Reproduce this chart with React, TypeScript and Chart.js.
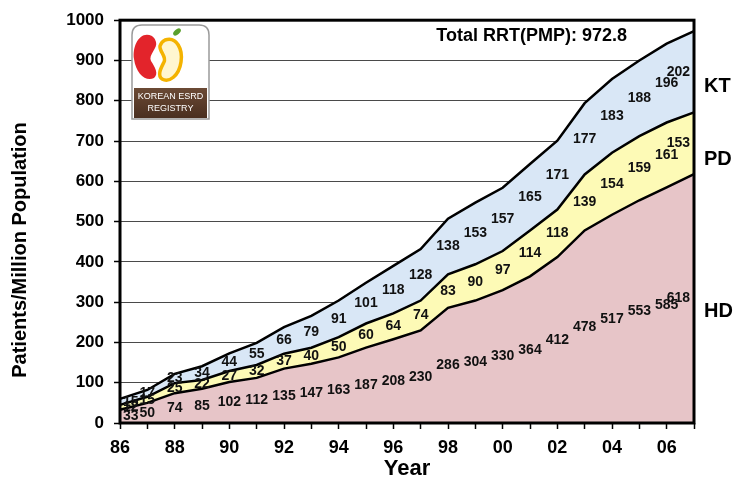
import React, { useEffect, useRef } from "react";
import { Chart, registerables } from "chart.js";

Chart.register(...registerables);

const years = ["86","87","88","89","90","91","92","93","94","95","96","97","98","99","00","01","02","03","04","05","06","07"];
const hdValues = [33, 50, 74, 85, 102, 112, 135, 147, 163, 187, 208, 230, 286, 304, 330, 364, 412, 478, 517, 553, 585, 618];
const pdValues = [12, 15, 25, 22, 27, 32, 37, 40, 50, 60, 64, 74, 83, 90, 97, 114, 118, 139, 154, 159, 161, 153];
const ktValues = [15, 17, 23, 34, 44, 55, 66, 79, 91, 101, 118, 128, 138, 153, 157, 165, 171, 177, 183, 188, 196, 202];
const seriesNames = ["HD", "PD", "KT"];
const totalLabel = "Total RRT(PMP): 972.8";
const yTitle = "Patients/Million Population";
const xTitle = "Year";

const FONT = "'Liberation Sans', Arial, sans-serif";

function drawLogo(ctx: CanvasRenderingContext2D) {
  ctx.save();
  const x0 = 132, y0 = 25, x1 = 209, y1 = 119, r = 10;
  ctx.beginPath();
  ctx.moveTo(x0 + r, y0);
  ctx.lineTo(x1 - r, y0);
  ctx.quadraticCurveTo(x1, y0, x1, y0 + r);
  ctx.lineTo(x1, y1);
  ctx.lineTo(x0, y1);
  ctx.lineTo(x0, y0 + r);
  ctx.quadraticCurveTo(x0, y0, x0 + r, y0);
  ctx.closePath();
  ctx.fillStyle = "#ffffff";
  ctx.fill();
  ctx.lineWidth = 1.5;
  ctx.strokeStyle = "#9a9a9a";
  ctx.stroke();

  const g = ctx.createLinearGradient(0, 88, 0, 118);
  g.addColorStop(0, "#6b4a35");
  g.addColorStop(1, "#4a2f20");
  ctx.fillStyle = g;
  ctx.fillRect(134, 88, 73, 30);
  ctx.fillStyle = "#ffffff";
  ctx.font = `9px ${FONT}`;
  ctx.textAlign = "center";
  ctx.textBaseline = "middle";
  ctx.fillText("KOREAN ESRD", 170.5, 97);
  ctx.fillText("REGISTRY", 170.5, 109);

  ctx.beginPath();
  ctx.moveTo(152, 36);
  ctx.bezierCurveTo(140, 30, 132, 46, 134, 59);
  ctx.bezierCurveTo(136, 74, 146, 82, 154, 78);
  ctx.bezierCurveTo(159, 74, 155, 67, 151, 61);
  ctx.bezierCurveTo(148, 55, 158, 48, 156, 42);
  ctx.bezierCurveTo(155, 38, 153, 37, 152, 36);
  ctx.closePath();
  ctx.fillStyle = "#e3242b";
  ctx.fill();

  ctx.beginPath();
  ctx.moveTo(165, 40);
  ctx.bezierCurveTo(177, 36, 183, 50, 181, 62);
  ctx.bezierCurveTo(179, 76, 169, 83, 162, 79);
  ctx.bezierCurveTo(157, 75, 161, 68, 164, 62);
  ctx.bezierCurveTo(167, 57, 159, 51, 160, 46);
  ctx.bezierCurveTo(161, 43, 163, 41, 165, 40);
  ctx.closePath();
  ctx.fillStyle = "#fff6d0";
  ctx.fill();
  ctx.lineWidth = 3.5;
  ctx.strokeStyle = "#f4b300";
  ctx.stroke();

  ctx.beginPath();
  ctx.ellipse(177, 32, 4.5, 2.5, -0.7, 0, Math.PI * 2);
  ctx.fillStyle = "#5aa02c";
  ctx.fill();
  ctx.restore();
}

const decorPlugin = {
  id: "decor",
  afterDatasetsDraw(chart: any) {
    const { ctx, chartArea } = chart;
    const xs = chart.scales.x;
    const ys = chart.scales.y;
    ctx.save();
    ctx.font = `bold 14px ${FONT}`;
    ctx.fillStyle = "#111";
    ctx.textAlign = "center";
    ctx.textBaseline = "middle";
    const all = [hdValues, pdValues, ktValues];
    for (let j = 0; j < years.length; j++) {
      let base = 0;
      for (let s = 0; s < all.length; s++) {
        const v = all[s][j];
        const label = String(v);
        const w = ctx.measureText(label).width;
        let px = xs.getPixelForValue(j);
        px = Math.max(chartArea.left + w / 2 + 3, Math.min(chartArea.right - w / 2 - 4, px));
        const py = ys.getPixelForValue(base + v / 2);
        ctx.fillText(label, px, py);
        base += v;
      }
    }
    ctx.lineWidth = 3;
    ctx.strokeStyle = "#000";
    ctx.strokeRect(chartArea.left, chartArea.top, chartArea.right - chartArea.left, chartArea.bottom - chartArea.top);
    ctx.restore();
  },
  afterDraw(chart: any) {
    const { ctx, chartArea } = chart;
    ctx.save();
    drawLogo(ctx);
    ctx.fillStyle = "#000";
    ctx.font = `bold 18px ${FONT}`;
    ctx.textAlign = "right";
    ctx.textBaseline = "alphabetic";
    ctx.fillText(totalLabel, 627, 41);

    ctx.font = `bold 20px ${FONT}`;
    ctx.textAlign = "left";
    ctx.textBaseline = "middle";
    const namePos = [311, 159, 86];
    seriesNames.forEach((n, i) => ctx.fillText(n, 704, namePos[i]));

    ctx.font = `bold 22px ${FONT}`;
    ctx.textAlign = "center";
    ctx.fillText(xTitle, (chartArea.left + chartArea.right) / 2, 469);

    ctx.translate(26, 250);
    ctx.rotate(-Math.PI / 2);
    ctx.font = `bold 20px ${FONT}`;
    ctx.textBaseline = "alphabetic";
    ctx.fillText(yTitle, 0, 0);
    ctx.restore();
  },
};

export default function App() {
  const ref = useRef<HTMLCanvasElement | null>(null);
  useEffect(() => {
    if (!ref.current) return;
    const chart = new Chart(ref.current, {
      type: "line",
      data: {
        labels: years,
        datasets: [
          { label: "HD", data: hdValues, fill: "origin", backgroundColor: "#e7c5c8", borderColor: "#000" },
          { label: "PD", data: pdValues, fill: "-1", backgroundColor: "#fdfab6", borderColor: "#000" },
          { label: "KT", data: ktValues, fill: "-1", backgroundColor: "#d9e7f6", borderColor: "#000" },
        ],
      },
      options: {
        responsive: false,
        animation: false,
        layout: { padding: { top: 19, right: 39, left: 0, bottom: 0 } },
        plugins: { legend: { display: false }, tooltip: { enabled: false } },
        elements: {
          line: { tension: 0, borderWidth: 2.5, borderColor: "#000" },
          point: { radius: 0 },
        },
        scales: {
          x: {
            type: "category",
            offset: false,
            border: { display: false },
            grid: { drawOnChartArea: false, drawTicks: true, tickLength: 6, tickColor: "#000", tickWidth: 1.5 },
            ticks: {
              autoSkip: false,
              maxRotation: 0,
              minRotation: 0,
              padding: 8,
              color: "#000",
              font: { family: FONT, size: 18, weight: "bold" },
              callback: (_v: any, i: number) => (i % 2 === 0 ? years[i] : ""),
            },
            afterFit: (s: any) => { s.height = 60; },
          },
          y: {
            stacked: true,
            min: 0,
            max: 1000,
            border: { display: false },
            grid: { color: "#4a4a4a", lineWidth: 1, tickLength: 6, tickColor: "#000", tickWidth: 1.5 },
            ticks: {
              stepSize: 100,
              padding: 10,
              color: "#000",
              font: { family: FONT, size: 17, weight: "bold" },
              callback: (v: any) => String(v),
            },
            afterFit: (s: any) => { s.width = 120; },
          },
        },
      } as any,
      plugins: [decorPlugin],
    });
    return () => chart.destroy();
  }, []);
  return (
    <div style={{ position: "absolute", left: 0, top: 0, width: 733, height: 483, background: "#fff" }}>
      <canvas ref={ref} width={733} height={483} style={{ display: "block" }} />
    </div>
  );
}
